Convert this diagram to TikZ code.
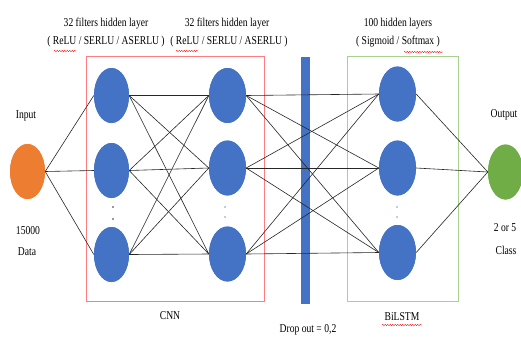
\documentclass[tikz,border=0pt]{standalone}
\usepackage{fontspec}
\setmainfont{Liberation Serif}
\usetikzlibrary{shapes.geometric,decorations.pathmorphing}
\definecolor{nblue}{HTML}{4472C4}
\definecolor{norange}{HTML}{ED7D31}
\definecolor{ngreen}{HTML}{70AD47}
\definecolor{boxred}{HTML}{FF7C80}
\definecolor{boxgreen}{HTML}{A9D18E}
\newcommand\narrowtxt[1]{\scalebox{0.8}[1]{#1}}
\tikzset{
  neuron/.style={ellipse, minimum width=35pt, minimum height=55pt, inner sep=0pt, fill=nblue, draw=none},
  inneuron/.style={neuron, fill=norange},
  outneuron/.style={neuron, fill=ngreen},
  conn/.style={draw=black!85, line width=0.6pt},
  lbl/.style={font=\fontsize{12}{14}\selectfont, inner sep=0pt},
  spell/.style={draw=red, line width=0.4pt, decorate, decoration={snake, amplitude=0.6pt, segment length=2.5pt}},
  dotl/.style={circle, fill=#1, inner sep=0pt, minimum size=1.8pt}
}
\begin{document}
\begin{tikzpicture}[x=1pt,y=-1pt]
\clip (0,0) rectangle (521,338);
\fill[white] (0,0) rectangle (521,338);
% boxes and dropout bar
\node[draw=boxred, line width=0.7pt, minimum width=178pt, minimum height=245pt, inner sep=0pt] (cnnbox) at (175,178.5) {};
\node[draw=boxgreen, line width=0.7pt, minimum width=111pt, minimum height=245pt, inner sep=0pt] (lstmbox) at (402.5,178.5) {};
\node[fill=nblue, minimum width=9pt, minimum height=247pt, inner sep=0pt] (drop) at (305.5,180.5) {};
% neurons
\node[inneuron] (in) at (27.5,171.5) {};
\node[neuron] (a1) at (111.5,95.5) {};
\node[neuron] (a2) at (111.5,170.5) {};
\node[neuron] (a3) at (111.5,254.5) {};
\node[neuron, minimum width=37pt] (b1) at (227.5,95.5) {};
\node[neuron, minimum width=37pt] (b2) at (227.5,168) {};
\node[neuron, minimum width=37pt] (b3) at (227.5,254) {};
\node[neuron, minimum width=37pt] (c1) at (397.5,94) {};
\node[neuron, minimum width=37pt] (c2) at (397.5,168) {};
\node[neuron, minimum width=37pt] (c3) at (397.5,252.5) {};
\node[outneuron] (out) at (505.5,172) {};
% connections
\foreach \t in {a1,a2,a3} \draw[conn] (in.east) -- (\t.west);
\foreach \s in {a1,a2,a3} \foreach \t in {b1,b2,b3} \draw[conn] (\s.east) -- (\t.west);
\foreach \s in {b1,b2,b3} \foreach \t in {c1,c2,c3} \draw[conn] (\s.east) -- (\t.west);
\foreach \s in {c1,c2,c3} \draw[conn] (\s.east) -- (out.west);
% redraw neurons on top of connectors
\foreach \n/\w in {a1/35,a2/35,a3/35,b1/37,b2/37,b3/37,c1/37,c2/37,c3/37}
  \fill[nblue] (\n.center) ellipse ({\w/2} and 27.5);
\fill[norange] (in.center) ellipse (17.5 and 27.5);
\fill[ngreen] (out.center) ellipse (17.5 and 27.5);
% dots
\node[dotl=black!80] (d1) at (113,207) {};
\node[dotl=black!80] (d2) at (113,219) {};
\node[dotl=nblue!70] (d3) at (225,207) {};
\node[dotl=nblue!70] (d4) at (225,217) {};
\node[dotl=nblue!70] (d5) at (397,207) {};
\node[dotl=nblue!70] (d6) at (397,217) {};
% labels
\node[lbl] (t1) at (106,24) {\narrowtxt{32 filters hidden layer}};
\node[lbl] (t2) at (106,42) {\narrowtxt{( ReLU / SERLU / ASERLU )}};
\node[lbl] (t3) at (227,24) {\narrowtxt{32 filters hidden layer}};
\node[lbl] (t4) at (229,42) {\narrowtxt{( ReLU / SERLU / ASERLU )}};
\node[lbl] (t5) at (398,24) {\narrowtxt{100 hidden layers}};
\node[lbl] (t6) at (398,42) {\narrowtxt{( Sigmoid / Softmax )}};
\node[lbl] (t7) at (26,116) {\narrowtxt{Input}};
\node[lbl] (t8) at (28,231) {\narrowtxt{15000}};
\node[lbl] (t9) at (27,252) {\narrowtxt{Data}};
\node[lbl] (t10) at (504,115) {\narrowtxt{Output}};
\node[lbl] (t11) at (505,228) {\narrowtxt{2 or 5}};
\node[lbl] (t12) at (506,250) {\narrowtxt{Class}};
\node[lbl] (t13) at (170,316) {\narrowtxt{CNN}};
\node[lbl] (t14) at (402,317) {\narrowtxt{BiLSTM}};
\node[lbl] (t15) at (308,330) {\narrowtxt{Drop out = 0,2}};
% spell-check underlines
\coordinate (u1a) at (54,51); \coordinate (u1b) at (76,51);
\coordinate (u2a) at (176,51); \coordinate (u2b) at (198,51);
\coordinate (u3a) at (404,52); \coordinate (u3b) at (443,52);
\coordinate (u4a) at (382,325); \coordinate (u4b) at (422,325);
\draw[spell] (u1a) -- (u1b);
\draw[spell] (u2a) -- (u2b);
\draw[spell] (u3a) -- (u3b);
\draw[spell] (u4a) -- (u4b);
\end{tikzpicture}
\end{document}
